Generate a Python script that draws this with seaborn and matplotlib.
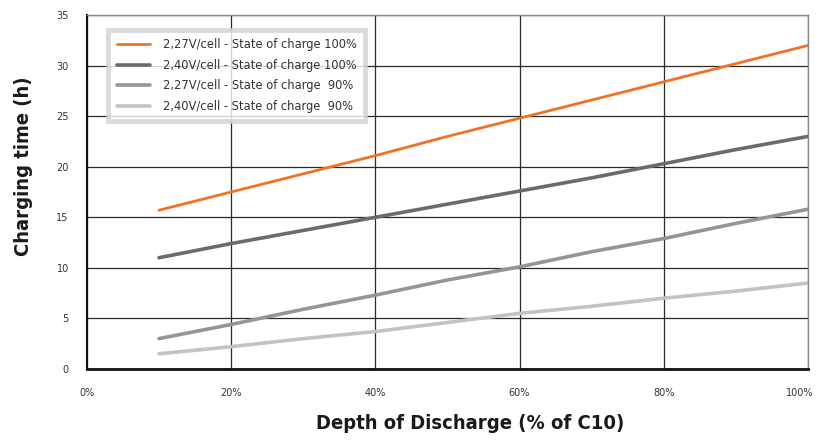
import pandas as pd
import seaborn as sns
import matplotlib.pyplot as plt
from matplotlib.transforms import ScaledTranslation

dod = [10, 20, 30, 40, 50, 60, 70, 80, 90, 100]
v227_soc100 = [15.7, 17.5, 19.3, 21.1, 23.0, 24.8, 26.6, 28.4, 30.2, 32.0]
v240_soc100 = [11.0, 12.4, 13.7, 15.0, 16.3, 17.6, 18.9, 20.3, 21.7, 23.0]
v227_soc90 = [3.0, 4.4, 5.9, 7.3, 8.8, 10.1, 11.6, 12.9, 14.4, 15.8]
v240_soc90 = [1.5, 2.2, 3.0, 3.7, 4.6, 5.5, 6.2, 7.0, 7.7, 8.5]

series_names = ["2,27V/cell - State of charge 100%",
                "2,40V/cell - State of charge 100%",
                "2,27V/cell - State of charge  90%",
                "2,40V/cell - State of charge  90%"]
x_ticks = [0, 20, 40, 60, 80, 100]
x_tick_labels = ["0%", "20%", "40%", "60%", "80%", "100%"]
y_ticks = [0, 5, 10, 15, 20, 25, 30, 35]

colors = ["#f07228", "#6b6b6d", "#959597", "#c3c3c5"]
widths = [2.0, 2.6, 2.6, 2.6]

frames = []
for name, vals in zip(series_names, [v227_soc100, v240_soc100, v227_soc90, v240_soc90]):
    frames.append(pd.DataFrame({"dod": dod, "hours": vals, "series": name}))
df = pd.concat(frames)

sns.set_style("white")
fig = plt.figure(figsize=(8.19, 4.44), dpi=100)
ax = fig.add_axes([0.106, 0.169, 0.8806, 0.797])

for i, name in enumerate(series_names):
    sns.lineplot(data=df[df["series"] == name], x="dod", y="hours", ax=ax,
                 color=colors[i], linewidth=widths[i], label=name)

ax.set_xlim(0, 100)
ax.set_ylim(0, 35)
ax.set_xticks(x_ticks)
ax.set_xticklabels(x_tick_labels)
ax.set_yticks(y_ticks)
ax.grid(True, color="#2a2a2a", linewidth=0.9)
ax.set_axisbelow(True)
ax.tick_params(axis="both", which="major", length=0, labelsize=7, colors="#333333")
ax.tick_params(axis="x", pad=14)
ax.tick_params(axis="y", pad=13)
# small marks at the origin, as in the original
ax.set_xticks([0], minor=True)
ax.set_yticks([0], minor=True)
ax.tick_params(axis="both", which="minor", length=7, width=1.5, color="#111111",
               direction="out", bottom=True, left=True, labelsize=0)
last = ax.get_xticklabels()[-1]
last.set_transform(last.get_transform() + ScaledTranslation(-8 / 100, 0, fig.dpi_scale_trans))

for s in ["top", "right"]:
    ax.spines[s].set_color("#8a8a8a")
    ax.spines[s].set_linewidth(1.0)
ax.spines["left"].set_color("#111111")
ax.spines["left"].set_linewidth(1.5)
ax.spines["bottom"].set_color("#111111")
ax.spines["bottom"].set_linewidth(2.0)

lab_font = dict(family="DejaVu Sans", weight="bold", stretch="condensed",
                size=14.5, color="#1a1a1a")
ax.set_xlabel("Depth of Discharge (% of C10)", va="top", **lab_font)
ax.xaxis.set_label_coords(0.531, -0.128)
ax.set_ylabel("Charging time (h)", **lab_font)
ax.yaxis.set_label_coords(-0.074, 0.573)

leg = ax.legend(loc="upper left", bbox_to_anchor=(0.022, 0.975), frameon=True,
                fancybox=False, fontsize=8.3, handlelength=2.9, labelspacing=0.68,
                borderpad=0.7, handletextpad=1.1)
leg.get_frame().set_edgecolor("#d2d2d4")
leg.get_frame().set_linewidth(3.5)
for t in leg.get_texts():
    t.set_color("#333333")

fig.savefig("out.png", dpi=100)
